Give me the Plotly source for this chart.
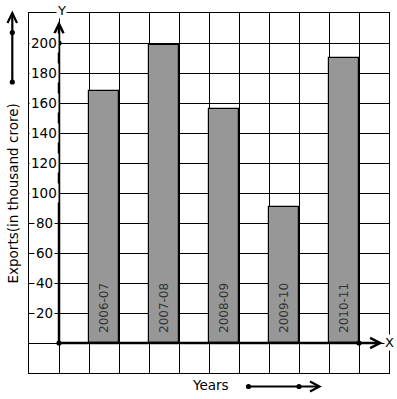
import plotly.graph_objects as go

# ---- data ----
years = ["2006-07", "2007-08", "2008-09", "2009-10", "2010-11"]
exports = [168, 199, 156, 91, 190]
y_ticks = [20, 40, 60, 80, 100, 120, 140, 160, 180, 200]
y_title = "Exports(in thousand crore)"
x_title = "Years"

W, H = 397, 399
L, R, T, B = 29, 389, 13, 373  # plot area in pixels
FONT = "DejaVu Sans"


def pxx(p):
    return (p - L) / (R - L)


def pxy(p):
    return (B - p) / (B - T)


bar_x = [1.5 + 2 * i for i in range(len(years))]

fig = go.Figure()
fig.add_trace(go.Bar(
    x=bar_x, y=exports, width=1,
    marker=dict(color="#979797", line=dict(color="black", width=1.2)),
    hoverinfo="skip", showlegend=False,
))

shapes = []
annotations = []
AX = dict(color="black", width=2.5)

# y axis with arrow
shapes.append(dict(type="line", xref="x", yref="y", x0=0, y0=0, x1=0, y1=212.5, line=AX, layer="above"))
shapes.append(dict(type="path", xref="x", yref="y",
                   path="M -0.15,206.5 L 0,212.7 L 0.15,206.5", line=AX, layer="above"))
# x axis with arrow
shapes.append(dict(type="line", xref="x", yref="y", x0=0, y0=0, x1=10.7, y1=0, line=AX, layer="above"))
shapes.append(dict(type="path", xref="x", yref="y",
                   path="M 10.37,3.4 L 10.7,0 L 10.37,-3.4", line=AX, layer="above"))


def dot(xr, yr, x, y, r=2.6):
    return dict(type="circle", xref=xr, yref=yr, xsizemode="pixel", ysizemode="pixel",
                xanchor=x, yanchor=y, x0=-r, x1=r, y0=-r, y1=r,
                fillcolor="black", line=dict(color="black", width=0), layer="above")


shapes.append(dot("x", "y", 0, 0))
shapes.append(dot("x", "y", 0, 200))
shapes.append(dot("x", "y", 10, 0))

# left decorative arrow
LA = dict(color="black", width=2.2)
shapes.append(dict(type="line", xref="paper", yref="paper", x0=pxx(12.3), x1=pxx(12.3),
                   y0=pxy(82), y1=pxy(13.5), line=LA))
shapes.append(dict(type="path", xref="paper", yref="paper",
                   path=f"M {pxx(7.5)},{pxy(23)} L {pxx(12.3)},{pxy(13)} L {pxx(17)},{pxy(23)}", line=LA))
shapes.append(dot("paper", "paper", pxx(12.3), pxy(32.5)))
shapes.append(dot("paper", "paper", pxx(12.3), pxy(82)))

# bottom decorative arrow
shapes.append(dict(type="line", xref="paper", yref="paper", x0=pxx(248), x1=pxx(319),
                   y0=pxy(386.5), y1=pxy(386.5), line=LA))
shapes.append(dict(type="path", xref="paper", yref="paper",
                   path=f"M {pxx(310)},{pxy(381.5)} L {pxx(319.5)},{pxy(386.5)} L {pxx(310)},{pxy(391.5)}", line=LA))
shapes.append(dot("paper", "paper", pxx(248.5), pxy(386.5)))
shapes.append(dot("paper", "paper", pxx(299), pxy(386.5)))

# y tick labels (with white background)
for v in y_ticks:
    annotations.append(dict(x=-0.5, y=v, xref="x", yref="y", text=str(v), showarrow=False,
                            xanchor="center", yanchor="middle", bgcolor="white", borderpad=1,
                            font=dict(family=FONT, size=13.5, color="black")))

# bar labels inside bars
for xi, lab in zip(bar_x, years):
    annotations.append(dict(x=xi, y=0, xref="x", yref="y", text=lab, showarrow=False,
                            textangle=-90, xanchor="center", yanchor="bottom", yshift=8,
                            font=dict(family=FONT, size=12, color="#333333")))

# axis letters
annotations.append(dict(x=pxx(61), y=pxy(10), xref="paper", yref="paper", text="Y", showarrow=False,
                        xanchor="center", yanchor="middle", bgcolor="white", borderpad=0,
                        font=dict(family=FONT, size=13, color="black")))
annotations.append(dict(x=pxx(389), y=pxy(342), xref="paper", yref="paper", text="X", showarrow=False,
                        xanchor="center", yanchor="middle", bgcolor="white", borderpad=0,
                        font=dict(family=FONT, size=13, color="black")))

# titles
annotations.append(dict(x=pxx(12.5), y=pxy(194), xref="paper", yref="paper", text=y_title, showarrow=False,
                        textangle=-90, xanchor="center", yanchor="middle",
                        font=dict(family=FONT, size=13.5, color="black")))
annotations.append(dict(x=pxx(210), y=pxy(385), xref="paper", yref="paper", text=x_title, showarrow=False,
                        xanchor="center", yanchor="middle",
                        font=dict(family=FONT, size=13.5, color="black")))

fig.update_layout(
    width=W, height=H,
    margin=dict(l=L, r=W - R, t=T, b=H - B, pad=0),
    paper_bgcolor="white", plot_bgcolor="white",
    xaxis=dict(range=[-1, 11], tick0=0, dtick=1, showgrid=True, gridcolor="black", gridwidth=1,
               showticklabels=False, ticks="", zeroline=False, showline=True, mirror=True,
               linecolor="black", linewidth=1, fixedrange=True),
    yaxis=dict(range=[-20, 220], tick0=0, dtick=20, showgrid=True, gridcolor="black", gridwidth=1,
               showticklabels=False, ticks="", zeroline=False, showline=True, mirror=True,
               linecolor="black", linewidth=1, fixedrange=True),
    shapes=shapes, annotations=annotations, bargap=0,
    showlegend=False,
)

fig.write_html("out.html", config={"displayModeBar": False},
               post_script="document.body.style.margin='0';document.body.style.padding='0';")
